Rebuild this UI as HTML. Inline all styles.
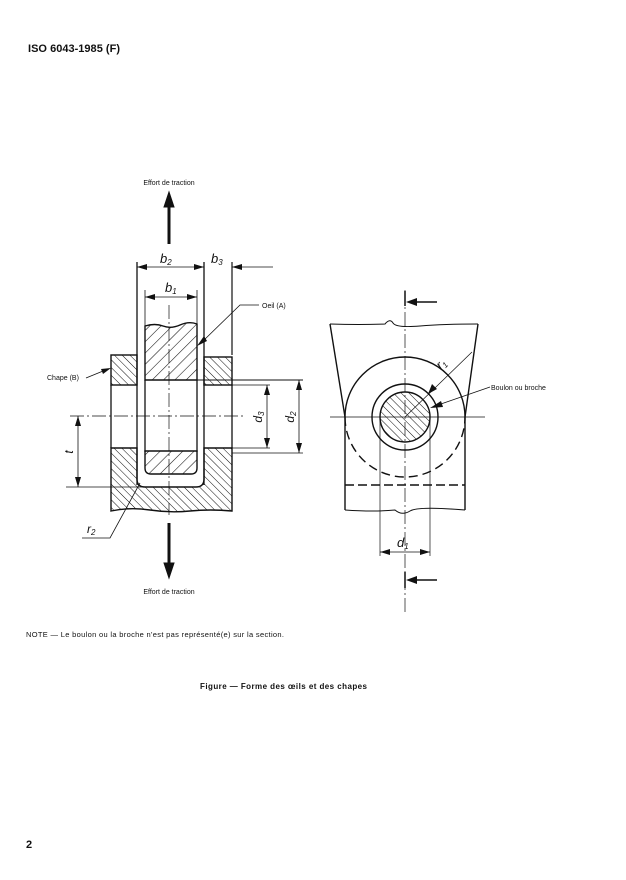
<!DOCTYPE html>
<html><head><meta charset="utf-8"><style>
html,body{margin:0;padding:0;background:#fff}
svg{display:block}
text{font-family:"Liberation Sans",sans-serif;fill:#111}
</style></head><body>
<svg width="626" height="880" viewBox="0 0 626 880" xmlns="http://www.w3.org/2000/svg">
<defs>
<pattern id="h1" width="8" height="8" patternUnits="userSpaceOnUse" patternTransform="rotate(45)"><line x1="0" y1="0" x2="0" y2="8" stroke="#111" stroke-width="1.1"/></pattern>
<pattern id="h2" width="5.5" height="5.5" patternUnits="userSpaceOnUse" patternTransform="rotate(-45)"><line x1="0" y1="0" x2="0" y2="5.5" stroke="#111" stroke-width="1"/></pattern>
</defs>
<text x="28" y="52" font-size="11" font-weight="bold" textLength="92">ISO 6043-1985 (F)</text>

<g stroke="#111" fill="none">
<text x="169" y="185" font-size="7" text-anchor="middle" stroke="none">Effort de traction</text>
<line x1="169" y1="244" x2="169" y2="205" stroke-width="3"/>
<path d="M164,207L169,192L174,207z" fill="#111"/>
<line x1="137" y1="262" x2="137" y2="485" stroke-width="1.3"/>
<line x1="204" y1="262" x2="204" y2="485" stroke-width="1.3"/>
<line x1="232" y1="262" x2="232" y2="355" stroke-width="1.2"/>
<line x1="137" y1="267" x2="204" y2="267" stroke-width="0.8"/>
<path d="M147,264L137,267L147,270z M194,264L204,267L194,270z" fill="#111" stroke="none"/>
<line x1="232" y1="267" x2="273" y2="267" stroke-width="0.8"/>
<path d="M242,264L232,267L242,270z" fill="#111" stroke="none"/>
<line x1="145" y1="297" x2="197" y2="297" stroke-width="0.8"/>
<path d="M155,294L145,297L155,300z M187,294L197,297L187,300z" fill="#111" stroke="none"/>
<path d="M145,380L145,326Q155,323 163,326T180,325T197,324L197,380z" fill="url(#h1)" stroke-width="1.4"/>
<line x1="145" y1="290" x2="145" y2="326" stroke-width="0.8"/>
<line x1="197" y1="290" x2="197" y2="326" stroke-width="0.8"/>
<rect x="111" y="355" width="26" height="30" fill="url(#h2)" stroke-width="1.4"/>
<rect x="204" y="357" width="28" height="28" fill="url(#h2)" stroke-width="1.4"/>
<line x1="111" y1="385" x2="111" y2="448" stroke-width="1.3"/>
<line x1="232" y1="385" x2="232" y2="448" stroke-width="1.3"/>
<line x1="145" y1="380" x2="145" y2="452" stroke-width="1.3"/>
<line x1="197" y1="380" x2="197" y2="452" stroke-width="1.3"/>
<line x1="145" y1="380" x2="303" y2="380" stroke-width="1"/>
<line x1="232" y1="385" x2="270" y2="385" stroke-width="0.8"/>
<path d="M111,448L137,448L137,479Q137,487 145,487L196,487Q204,487 204,479L204,448L232,448L232,511Q210,509 190,511T150,510T111,511z" fill="url(#h2)" stroke-width="1.4"/>
<path d="M145,451L197,451L197,468Q197,474 191,474L151,474Q145,474 145,468z" fill="url(#h1)" stroke-width="1.4"/>
<line x1="204" y1="448" x2="270" y2="448" stroke-width="0.8"/>
<line x1="232" y1="453" x2="303" y2="453" stroke-width="0.8"/>
<line x1="267" y1="385" x2="267" y2="448" stroke-width="0.8"/>
<path d="M264,395L267,385L270,395z M264,438L267,448L270,438z" fill="#111" stroke="none"/>
<line x1="299" y1="380" x2="299" y2="453" stroke-width="0.8"/>
<path d="M296,390L299,380L302,390z M296,443L299,453L302,443z" fill="#111" stroke="none"/>
<text transform="translate(262,417) rotate(-90)" font-size="12" font-style="italic" text-anchor="middle" stroke="none">d<tspan font-size="8" dy="2">3</tspan></text>
<text transform="translate(294,417) rotate(-90)" font-size="12" font-style="italic" text-anchor="middle" stroke="none">d<tspan font-size="8" dy="2">2</tspan></text>
<line x1="70" y1="416" x2="245" y2="416" stroke-width="0.7" stroke-dasharray="14,3,2,3"/>
<line x1="169" y1="305" x2="169" y2="515" stroke-width="0.7" stroke-dasharray="14,3,2,3"/>
<line x1="66" y1="487" x2="145" y2="487" stroke-width="0.8"/>
<line x1="78" y1="416" x2="78" y2="487" stroke-width="0.8"/>
<path d="M75,426L78,416L81,426z M75,477L78,487L81,477z" fill="#111" stroke="none"/>
<text transform="translate(73,452) rotate(-90)" font-size="12" font-style="italic" text-anchor="middle" stroke="none">t</text>
<polyline points="140,483 110,538 82,538" stroke-width="0.8"/>
<text x="87" y="533" font-size="12" font-style="italic" stroke="none">r<tspan font-size="8" dy="2">2</tspan></text>
<line x1="169" y1="523" x2="169" y2="565" stroke-width="3"/>
<path d="M164,563L169,578L174,563z" fill="#111"/>
<text x="169" y="594" font-size="7" text-anchor="middle" stroke="none">Effort de traction</text>
<text x="160" y="263" font-size="13" font-style="italic" stroke="none">b<tspan font-size="8" dy="2">2</tspan></text>
<text x="211" y="263" font-size="13" font-style="italic" stroke="none">b<tspan font-size="8" dy="2">3</tspan></text>
<text x="165" y="292" font-size="13" font-style="italic" stroke="none">b<tspan font-size="8" dy="2">1</tspan></text>
<text x="262" y="308" font-size="7" stroke="none">Oeil (A)</text>
<polyline points="259,305 240,305 202,342" stroke-width="0.8"/>
<path d="M197,346L204,336L207,341z" fill="#111" stroke="none"/>
<text x="47" y="380" font-size="7" stroke="none">Chape (B)</text>
<line x1="86" y1="378" x2="108" y2="369" stroke-width="0.8"/>
<path d="M111,368L101,369L103,374z" fill="#111" stroke="none"/>

<line x1="405" y1="290" x2="405" y2="612" stroke-width="0.7" stroke-dasharray="14,3,2,3"/>
<line x1="405" y1="291" x2="405" y2="306" stroke-width="1.5"/>
<line x1="415" y1="302" x2="437" y2="302" stroke-width="1.5"/>
<path d="M417,298L406,302L417,306z" fill="#111" stroke="none"/>
<line x1="405" y1="572" x2="405" y2="588" stroke-width="1.5"/>
<line x1="415" y1="580" x2="437" y2="580" stroke-width="1.5"/>
<path d="M417,576L406,580L417,584z" fill="#111" stroke="none"/>
<path d="M330,324Q360,325 385,324Q390,318 393,323T420,326T478,324" stroke-width="1"/>
<path d="M330,324L345,417L345,510" stroke-width="1.4"/>
<path d="M478,324L465,417L465,510" stroke-width="1.4"/>
<path d="M345,510Q375,512 395,510Q402,516 410,511T465,510" stroke-width="1"/>
<path d="M345,417A60,60 0 0 1 465,417" stroke-width="1.4"/>
<path d="M345,417A60,60 0 0 0 465,417" stroke-width="1.4" stroke-dasharray="9,5"/>
<line x1="345" y1="485" x2="465" y2="485" stroke-width="1.4" stroke-dasharray="9,4"/>
<circle cx="405" cy="417" r="33" stroke-width="1.4"/>
<circle cx="405" cy="417" r="25" fill="url(#h2)" stroke-width="1.4"/>
<line x1="330" y1="417" x2="485" y2="417" stroke-width="0.7"/>
<line x1="380" y1="417" x2="380" y2="556" stroke-width="0.7"/>
<line x1="430" y1="417" x2="430" y2="556" stroke-width="0.7"/>
<line x1="380" y1="552" x2="430" y2="552" stroke-width="0.8"/>
<path d="M390,549L380,552L390,555z M420,549L430,552L420,555z" fill="#111" stroke="none"/>
<text x="397" y="547" font-size="13" font-style="italic" stroke="none">d<tspan font-size="8" dy="2">1</tspan></text>
<line x1="405" y1="417" x2="472" y2="352" stroke-width="0.7"/>
<path d="M428,394L437,389L432,384z" fill="#111" stroke="none"/>
<text transform="translate(441,370) rotate(-45)" font-size="13" font-style="italic" stroke="none">r<tspan font-size="8" dy="2">1</tspan></text>
<line x1="490" y1="387" x2="438" y2="405" stroke-width="0.8"/>
<path d="M430,408L441,401L443,407z" fill="#111" stroke="none"/>
<text x="491" y="390" font-size="7" stroke="none">Boulon ou broche</text>
</g>

<text x="26" y="637" font-size="7.5" textLength="258">NOTE — Le boulon ou la broche n'est pas représenté(e) sur la section.</text>
<text x="200" y="689" font-size="8" font-weight="bold" textLength="167">Figure — Forme des œils et des chapes</text>
<text x="26" y="848" font-size="11" font-weight="bold">2</text>
</svg>
</body></html>
